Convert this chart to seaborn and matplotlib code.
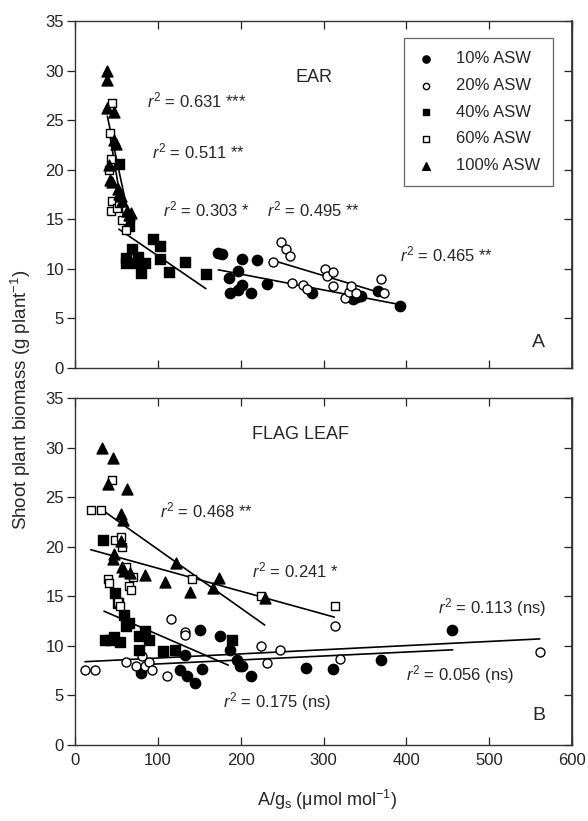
import numpy as np
import pandas as pd
import matplotlib
matplotlib.use("Agg")
import matplotlib.pyplot as plt
import seaborn as sns

# ---- datos: panel A (EAR) ----
ear_asw10_x = [173, 177, 201, 220, 197, 186, 187, 197, 201, 213, 232, 286, 336, 340, 345, 366, 392]
ear_asw10_y = [11.6, 11.5, 11.0, 10.9, 9.8, 9.1, 7.6, 7.9, 8.4, 7.6, 8.5, 7.6, 7.0, 7.2, 7.3, 7.8, 6.3]
ear_asw20_x = [239, 249, 255, 260, 262, 275, 280, 302, 304, 312, 311, 326, 331, 333, 339, 369, 373]
ear_asw20_y = [10.7, 12.7, 12.0, 11.3, 8.6, 8.4, 8.0, 10.0, 9.3, 9.7, 8.3, 7.1, 7.7, 8.3, 7.6, 9.0, 7.6]
ear_asw40_x = [53, 65, 61, 61, 69, 76, 74, 84, 80, 94, 103, 102, 114, 133, 158]
ear_asw40_y = [20.6, 14.3, 11.1, 10.6, 12.0, 11.2, 10.6, 10.6, 9.6, 13.0, 12.3, 11.0, 9.7, 10.7, 9.5]
ear_asw60_x = [45, 42, 44, 41, 45, 44, 51, 53, 57, 61]
ear_asw60_y = [26.7, 23.7, 21.1, 20.0, 16.8, 15.8, 16.1, 16.6, 14.9, 13.9]
ear_asw100_x = [38, 38, 39, 47, 47, 50, 41, 42, 45, 52, 53, 55, 57, 63, 65, 67]
ear_asw100_y = [30.0, 29.0, 26.2, 25.8, 23.0, 22.6, 20.5, 19.0, 18.8, 18.1, 17.6, 17.3, 16.8, 15.8, 15.4, 15.6]

# rectas de regresión (extremos)
ear_fit_x = {"10": [173, 392], "20": [245, 372], "40": [53, 158], "60": [41, 61], "100": [39, 65]}
ear_fit_y = {"10": [9.9, 6.4], "20": [10.7, 7.5], "40": [14.0, 8.0], "60": [24.0, 14.0], "100": [25.4, 15.2]}

# ---- panel B (FLAG LEAF) ----
fl_asw10_x = [80, 133, 151, 175, 187, 196, 199, 202, 212, 127, 135, 145, 153, 279, 311, 370, 455]
fl_asw10_y = [7.3, 9.1, 11.6, 11.0, 9.6, 8.6, 8.0, 8.0, 7.0, 7.6, 7.0, 6.3, 7.7, 7.8, 7.7, 8.6, 11.6]
fl_asw20_x = [12, 24, 61, 81, 74, 85, 89, 93, 111, 116, 133, 133, 225, 232, 248, 314, 320, 561]
fl_asw20_y = [7.6, 7.6, 8.4, 9.0, 8.0, 8.0, 8.4, 7.6, 7.0, 12.7, 11.4, 11.1, 10.0, 8.3, 9.6, 12.0, 8.7, 9.4]
fl_asw40_x = [34, 48, 52, 59, 62, 65, 36, 42, 47, 54, 77, 84, 89, 77, 106, 121, 189]
fl_asw40_y = [20.7, 15.3, 14.3, 13.1, 12.0, 12.3, 10.6, 10.6, 10.9, 10.4, 11.0, 11.5, 10.6, 9.6, 9.5, 9.6, 10.6]
fl_asw60_x = [19, 31, 45, 48, 55, 57, 61, 40, 41, 52, 54, 70, 65, 67, 141, 225, 314]
fl_asw60_y = [23.7, 23.7, 26.7, 20.7, 21.0, 20.0, 18.0, 16.7, 16.3, 14.4, 14.0, 16.9, 16.0, 15.6, 16.7, 15.0, 14.0]
fl_asw100_x = [33, 46, 40, 63, 55, 58, 55, 47, 46, 57, 59, 66, 85, 109, 139, 122, 174, 167, 229]
fl_asw100_y = [30.0, 28.9, 26.3, 25.8, 23.3, 22.7, 20.6, 19.3, 18.8, 18.0, 17.6, 17.3, 17.1, 16.4, 15.4, 18.4, 16.8, 15.8, 14.8]

fl_fit_x = {"10": [81, 456], "20": [12, 561], "40": [35, 185], "60": [19, 313], "100": [33, 229]}
fl_fit_y = {"10": [8.1, 9.6], "20": [8.4, 10.7], "40": [13.5, 8.05], "60": [19.7, 12.9], "100": [23.7, 12.1]}

grupos = ["10", "20", "40", "60", "100"]
etiquetas = ["10% ASW", "20% ASW", "40% ASW", "60% ASW", "100% ASW"]

# estilo de cada grupo: marcador, relleno, tamaño
estilos = {
    "10": ("o", "black", 55),
    "20": ("o", "white", 42),
    "40": ("s", "black", 44),
    "60": ("s", "white", 38),
    "100": ("^", "black", 62),
}


def armar_tabla(xs, ys):
    filas = []
    for g, x, y in zip(grupos, xs, ys):
        filas.append(pd.DataFrame({"ag": x, "biomasa": y, "grupo": g}))
    return pd.concat(filas, ignore_index=True)


ear = armar_tabla([ear_asw10_x, ear_asw20_x, ear_asw40_x, ear_asw60_x, ear_asw100_x],
                  [ear_asw10_y, ear_asw20_y, ear_asw40_y, ear_asw60_y, ear_asw100_y])
flag = armar_tabla([fl_asw10_x, fl_asw20_x, fl_asw40_x, fl_asw60_x, fl_asw100_x],
                   [fl_asw10_y, fl_asw20_y, fl_asw40_y, fl_asw60_y, fl_asw100_y])

sns.set_theme(style="ticks")
plt.rcParams["font.family"] = ["Liberation Sans", "DejaVu Sans"]
plt.rcParams["mathtext.fontset"] = "custom"
plt.rcParams["mathtext.rm"] = "Liberation Sans"
plt.rcParams["mathtext.it"] = "Liberation Sans:italic"

fig = plt.figure(figsize=(5.88, 8.21), dpi=100)
ax_a = fig.add_axes([0.1276, 0.5518, 0.8452, 0.4226])
ax_b = fig.add_axes([0.1276, 0.0926, 0.8452, 0.4226])


def dibujar_panel(ax, df, fit_x, fit_y):
    for g in grupos:
        lin = pd.DataFrame({"x": fit_x[g], "y": fit_y[g]})
        sns.lineplot(data=lin, x="x", y="y", ax=ax, color="black", lw=1.2, zorder=2)
    for g, lab in zip(grupos, etiquetas):
        m, fc, s = estilos[g]
        sns.scatterplot(data=df[df["grupo"] == g], x="ag", y="biomasa", ax=ax,
                        marker=m, s=s, facecolor=fc, edgecolor="black",
                        linewidth=1.0, zorder=3, label=lab)
    ax.set_xlim(0, 600)
    ax.set_ylim(0, 35)
    ax.set_xticks(np.arange(0, 601, 100))
    ax.set_yticks(np.arange(0, 36, 5))
    ax.set_xlabel("")
    ax.set_ylabel("")
    ax.tick_params(axis="x", direction="in", top=True, length=6, width=0.9,
                   labelsize=12, colors="#222222", pad=6)
    ax.tick_params(axis="y", which="both", left=True, right=False, direction="out",
                   length=6, width=0.9, labelsize=12, colors="#222222", pad=2)
    # marcas del eje derecho hacia adentro
    ax2 = ax.secondary_yaxis("right")
    ax2.set_yticks(np.arange(0, 36, 5))
    ax2.tick_params(direction="in", length=6, width=0.9, labelright=False, colors="#222222")
    ax2.spines["right"].set_color("#333333")
    for sp in ax.spines.values():
        sp.set_visible(True)
        sp.set_color("#333333")
        sp.set_linewidth(1.0)


dibujar_panel(ax_a, ear, ear_fit_x, ear_fit_y)
dibujar_panel(ax_b, flag, fl_fit_x, fl_fit_y)
ax_a.tick_params(labelbottom=False)

# leyenda solo en el panel A
h, l = ax_a.get_legend_handles_labels()
leg = ax_a.legend(h, l, loc="upper right", bbox_to_anchor=(0.962, 0.951), fontsize=12,
                  frameon=True, fancybox=False, framealpha=1, edgecolor="#666666",
                  markerscale=0.7, labelspacing=0.7, handletextpad=1.3, handlelength=1.0,
                  borderpad=0.8, borderaxespad=0)
leg.get_frame().set_linewidth(0.9)
ax_b.get_legend().remove()

fs = 12
ax_a.text(87, 27.0, r"$r^2$ = 0.631 ***", fontsize=fs, va="center")
ax_a.text(93, 21.8, r"$r^2$ = 0.511 **", fontsize=fs, va="center")
ax_a.text(106, 16.0, r"$r^2$ = 0.303 *", fontsize=fs, va="center")
ax_a.text(232, 16.0, r"$r^2$ = 0.495 **", fontsize=fs, va="center")
ax_a.text(392, 11.5, r"$r^2$ = 0.465 **", fontsize=fs, va="center")
ax_a.text(288, 29.3, "EAR", fontsize=13, ha="center", va="center")
ax_a.text(560, 2.6, "A", fontsize=14, ha="center", va="center")

ax_b.text(103, 23.7, r"$r^2$ = 0.468 **", fontsize=fs, va="center")
ax_b.text(214, 17.6, r"$r^2$ = 0.241 *", fontsize=fs, va="center")
ax_b.text(438, 13.9, r"$r^2$ = 0.113 (ns)", fontsize=fs, va="center")
ax_b.text(400, 7.1, r"$r^2$ = 0.056 (ns)", fontsize=fs, va="center")
ax_b.text(179, 4.4, r"$r^2$ = 0.175 (ns)", fontsize=fs, va="center")
ax_b.text(272, 31.3, "FLAG LEAF", fontsize=13, ha="center", va="center")
ax_b.text(560, 3.0, "B", fontsize=14, ha="center", va="center")

fig.text(0.036, 0.513, r"Shoot plant biomass (g plant$^{-1}$)", rotation=90,
         ha="center", va="center", fontsize=13.5)
fig.text(0.557, 0.026, r"A/g$_\mathrm{s}$ ($\mathrm{\mu}$mol mol$^{-1}$)",
         ha="center", va="center", fontsize=13)

fig.savefig("out.png", dpi=100)
